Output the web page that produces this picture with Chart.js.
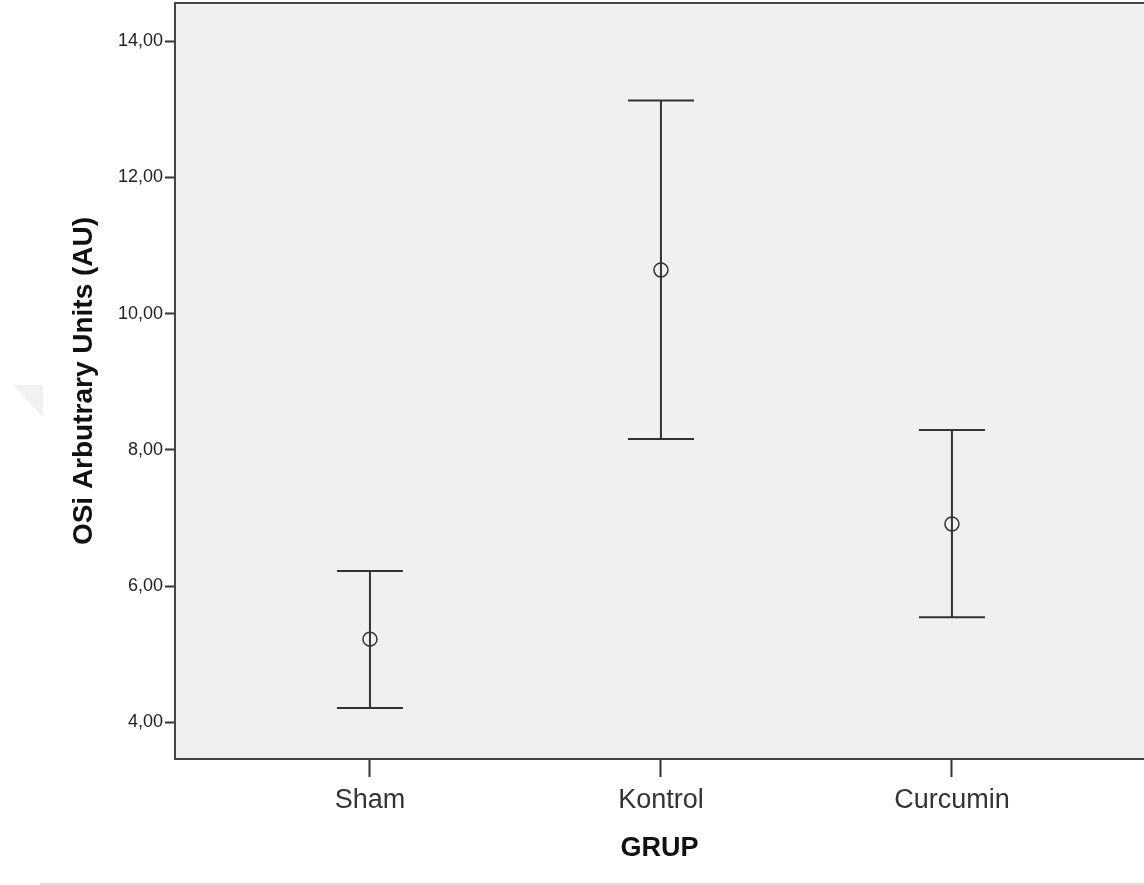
<!DOCTYPE html>
<html lang="tr">
<head>
  <meta charset="UTF-8">
  <title>OSi - GRUP</title>
  <script src="https://cdn.jsdelivr.net/npm/chart.js"></script>
  <style>
    html, body { margin: 0; padding: 0; background: #fff; }
    #wrap { width: 1144px; height: 885px; }
  </style>
</head>
<body>
  <div id="wrap"><canvas id="osiChart" width="1144" height="885"></canvas></div>

  <script>
    // values
    const groups = ['Sham', 'Kontrol', 'Curcumin'];
    const groupX = [1, 2, 3];
    const means = [5.22, 10.64, 6.91];
    const upper = [6.22, 13.13, 8.29];
    const lower = [4.21, 8.16, 5.54];
    const yTicks = [4, 6, 8, 10, 12, 14];

    const ink = '#333333';
    const font = "'Liberation Sans', Arial, sans-serif";

    const fmt = v => v.toFixed(2).replace('.', ',');

    // plot background, frame, page rule and watermark
    const frame = {
      id: 'frame',
      beforeDraw(chart) {
        const { ctx, chartArea: a } = chart;
        ctx.save();
        ctx.fillStyle = '#f0f0f0';
        ctx.fillRect(a.left, a.top, a.right - a.left, a.bottom - a.top);
        // faint watermark
        ctx.fillStyle = '#f1f1f1';
        ctx.beginPath();
        ctx.moveTo(13, 385); ctx.lineTo(43, 385); ctx.lineTo(43, 417);
        ctx.closePath(); ctx.fill();
        // light rule at page bottom
        ctx.strokeStyle = '#dddddd';
        ctx.lineWidth = 2;
        ctx.beginPath(); ctx.moveTo(40, 884); ctx.lineTo(chart.width, 884); ctx.stroke();
        ctx.restore();
      },
      afterDraw(chart) {
        const { ctx, chartArea: a } = chart;
        ctx.save();
        ctx.strokeStyle = '#444';
        ctx.lineWidth = 2;
        ctx.beginPath(); ctx.moveTo(a.left, a.top); ctx.lineTo(a.right, a.top); ctx.stroke();
        ctx.restore();
      }
    };

    // whiskers with caps, under the circles
    const errorBars = {
      id: 'errorBars',
      beforeDatasetsDraw(chart) {
        const { ctx, scales: { x, y } } = chart;
        const cap = 33;
        ctx.save();
        ctx.strokeStyle = ink;
        ctx.lineWidth = 2;
        groupX.forEach((gx, i) => {
          const px = x.getPixelForValue(gx);
          const top = y.getPixelForValue(upper[i]);
          const bot = y.getPixelForValue(lower[i]);
          ctx.beginPath();
          ctx.moveTo(px, top); ctx.lineTo(px, bot);
          ctx.moveTo(px - cap, top); ctx.lineTo(px + cap, top);
          ctx.moveTo(px - cap, bot); ctx.lineTo(px + cap, bot);
          ctx.stroke();
        });
        ctx.restore();
      }
    };

    new Chart(document.getElementById('osiChart'), {
      type: 'scatter',
      data: {
        datasets: [{
          label: 'OSi',
          data: groupX.map((gx, i) => ({ x: gx, y: means[i] })),
          pointStyle: 'circle',
          pointRadius: 7,
          pointHoverRadius: 7,
          borderColor: ink,
          borderWidth: 1.5,
          backgroundColor: 'rgba(0,0,0,0)'
        }]
      },
      options: {
        responsive: false,
        animation: false,
        devicePixelRatio: 1,
        layout: { autoPadding: false, padding: { top: 3, right: 0, bottom: 0, left: 0 } },
        plugins: {
          legend: { display: false },
          tooltip: { enabled: false }
        },
        scales: {
          x: {
            type: 'linear',
            min: 0.33,
            max: 3.66,
            afterFit: s => {
              s.height = 126;
              s.paddingLeft = 0; s.paddingRight = 0;
            },
            afterBuildTicks: s => { s.ticks = groupX.map(v => ({ value: v })); },
            grid: { drawOnChartArea: false, tickLength: 18, tickWidth: 2, color: ink },
            border: { display: true, color: '#444', width: 2 },
            ticks: {
              callback: v => groups[groupX.indexOf(v)] || '',
              color: ink,
              font: { family: font, size: 27 },
              padding: 7,
              maxRotation: 0
            },
            title: {
              display: true,
              text: 'GRUP',
              color: '#111',
              font: { family: font, size: 27, weight: 'bold' },
              padding: { top: 0, bottom: 20 }
            }
          },
          y: {
            min: 3.46,
            max: 14.56,
            afterFit: s => {
              s.width = 175;
              s.paddingTop = 0; s.paddingBottom = 0;
            },
            afterBuildTicks: s => { s.ticks = yTicks.map(v => ({ value: v })); },
            grid: { drawOnChartArea: false, tickLength: 10, tickWidth: 2, color: ink },
            border: { display: true, color: '#444', width: 2 },
            ticks: {
              callback: v => fmt(v),
              color: '#222',
              font: { family: font, size: 18 },
              padding: 2
            },
            title: {
              display: true,
              text: 'OSi Arbutrary Units (AU)',
              color: '#111',
              font: { family: font, size: 28, weight: 'bold' },
              padding: { top: 67, bottom: 0 }
            }
          }
        }
      },
      plugins: [frame, errorBars]
    });
  </script>
</body>
</html>
